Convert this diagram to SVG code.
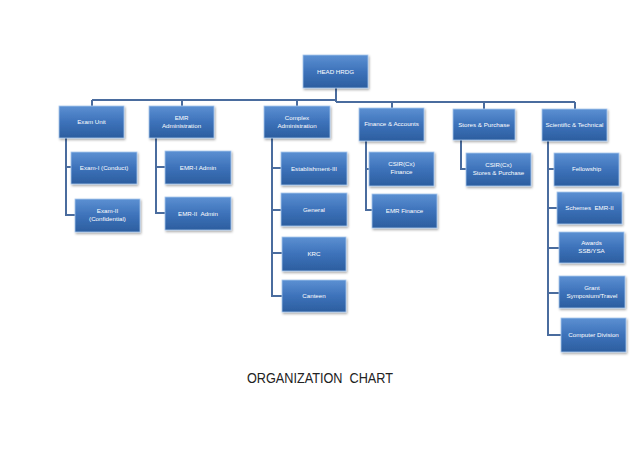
<svg xmlns="http://www.w3.org/2000/svg" width="640" height="453" viewBox="0 0 640 453">
<defs>
<linearGradient id="g" x1="0" y1="0" x2="0" y2="1">
<stop offset="0" stop-color="#5C90D2"/>
<stop offset="0.5" stop-color="#3D72BA"/>
<stop offset="1" stop-color="#2C5E9F"/>
</linearGradient>
<filter id="sh" x="-10%" y="-10%" width="130%" height="140%">
<feDropShadow dx="1" dy="1.5" stdDeviation="1" flood-color="#000" flood-opacity="0.35"/>
</filter>
</defs>
<style>
.box{fill:url(#g);stroke:#A9C9EE;stroke-width:0.8;filter:url(#sh)}
.t{font-family:"Liberation Sans",Arial,sans-serif;font-size:6.2px;fill:#fff;text-anchor:middle}
.c{fill:none;stroke:#4A6C9E;stroke-width:2}
.title{font-family:"Liberation Sans",Arial,sans-serif;font-size:14px;fill:#222}
</style>
<rect width="640" height="453" fill="#fff"/>
<g id="connectors" class="c">
<path d="M336,88V102M92,100H336M336,102H575M92,100V106M182,100V106M297,100V106M392,102V108M484,102V109M575,102V109"/>
<path d="M66,138V215H75M66,167H71"/>
<path d="M156,138V213H165M156,167H165"/>
<path d="M272,138V296H282M272,168H281M272,210H281M272,253H282"/>
<path d="M366,141V210H372M366,169H369"/>
<path d="M461,140V169H466"/>
<path d="M548,141V335H561M548,169H554M548,208H557M548,248H559M548,293H559"/>
</g>
<g id="head"><rect class="box" x="303" y="55" width="65" height="33"/><text class="t" x="335.5" y="73.5">HEAD HRDG</text></g>
<g id="exam-unit"><rect class="box" x="59" y="106" width="65" height="32"/><text class="t" x="91.5" y="124">Exam Unit</text></g>
<g id="emr-admin"><rect class="box" x="149" y="106" width="65" height="32"/><text class="t" x="181.5" y="120">EMR</text><text class="t" x="181.5" y="128">Administration</text></g>
<g id="complex-admin"><rect class="box" x="264" y="106" width="66" height="32"/><text class="t" x="297" y="120">Complex</text><text class="t" x="297" y="128">Administration</text></g>
<g id="finance"><rect class="box" x="359" y="108" width="65" height="33"/><text class="t" x="391.5" y="126">Finance &amp; Accounts</text></g>
<g id="stores"><rect class="box" x="453" y="109" width="62" height="31"/><text class="t" x="484" y="126.5">Stores &amp; Purchase</text></g>
<g id="scientific"><rect class="box" x="542" y="109" width="65" height="32"/><text class="t" x="574.5" y="127">Scientific &amp; Technical</text></g>
<g id="exam-1"><rect class="box" x="71" y="152" width="66" height="32"/><text class="t" x="104" y="170">Exam-I (Conduct)</text></g>
<g id="exam-2"><rect class="box" x="75" y="199" width="65" height="33"/><text class="t" x="107.5" y="213">Exam-II</text><text class="t" x="107.5" y="221">(Confidential)</text></g>
<g id="emr-1"><rect class="box" x="165" y="151" width="66" height="33"/><text class="t" x="198" y="169.5">EMR-I Admin</text></g>
<g id="emr-2"><rect class="box" x="165" y="197" width="66" height="33"/><text class="t" x="198" y="215.5" xml:space="preserve">EMR-II  Admin</text></g>
<g id="establishment"><rect class="box" x="281" y="152" width="66" height="33"/><text class="t" x="314" y="170.5">Establishment-III</text></g>
<g id="general"><rect class="box" x="281" y="193" width="66" height="33"/><text class="t" x="314" y="211.5">General</text></g>
<g id="krc"><rect class="box" x="282" y="237" width="64" height="34"/><text class="t" x="314" y="256">KRC</text></g>
<g id="canteen"><rect class="box" x="282" y="280" width="64" height="32"/><text class="t" x="314" y="298">Canteen</text></g>
<g id="csir-finance"><rect class="box" x="369" y="152" width="65" height="34"/><text class="t" x="401.5" y="166">CSIR(Cx)</text><text class="t" x="401.5" y="174">Finance</text></g>
<g id="emr-finance"><rect class="box" x="372" y="194" width="65" height="34"/><text class="t" x="404.5" y="213">EMR Finance</text></g>
<g id="csir-stores"><rect class="box" x="466" y="153" width="65" height="33"/><text class="t" x="498.5" y="167">CSIR(Cx)</text><text class="t" x="498.5" y="175">Stores &amp; Purchase</text></g>
<g id="fellowship"><rect class="box" x="554" y="153" width="65" height="33"/><text class="t" x="586.5" y="170.5">Fellowship</text></g>
<g id="schemes"><rect class="box" x="557" y="192" width="65" height="32"/><text class="t" x="589.5" y="210" xml:space="preserve">Schemes  EMR-II</text></g>
<g id="awards"><rect class="box" x="559" y="232" width="65" height="31"/><text class="t" x="591.5" y="244.5">Awards</text><text class="t" x="591.5" y="253">SSB/YSA</text></g>
<g id="grant"><rect class="box" x="559" y="276" width="66" height="32"/><text class="t" x="592" y="289.5">Grant</text><text class="t" x="592" y="298">Symposium/Travel</text></g>
<g id="computer"><rect class="box" x="561" y="318" width="65" height="34"/><text class="t" x="593.5" y="337">Computer Division</text></g>
<text class="title" x="247" y="383" textLength="146" lengthAdjust="spacingAndGlyphs" xml:space="preserve">ORGANIZATION  CHART</text>
</svg>
